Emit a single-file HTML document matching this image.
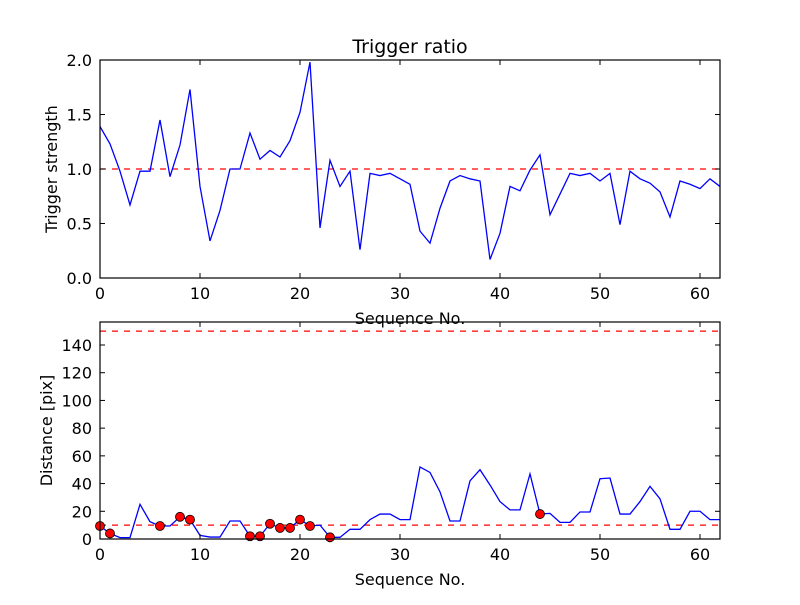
<!DOCTYPE html>
<html><head><meta charset="utf-8"><style>body{margin:0;background:#fff}svg text{font-family:"DejaVu Sans","Liberation Sans",sans-serif}</style></head>
<body>
<svg id="chart" width="800" height="600" xmlns="http://www.w3.org/2000/svg">
<rect width="800" height="600" fill="#fff"/>
</svg>
<script>
const strength = [1.39,1.23,0.98,0.67,0.98,0.98,1.45,0.93,1.22,1.73,0.84,0.34,0.62,1.0,1.0,1.33,1.09,1.17,1.11,1.26,1.52,1.98,0.46,1.08,0.84,0.98,0.26,0.96,0.94,0.96,0.91,0.86,0.43,0.32,0.64,0.89,0.94,0.91,0.89,0.17,0.41,0.84,0.80,0.99,1.13,0.58,0.77,0.96,0.94,0.96,0.89,0.96,0.49,0.98,0.91,0.87,0.79,0.56,0.89,0.86,0.82,0.91,0.84];
const distance = [9.4,4,1,1,25,12.5,9.4,9.4,16,14,2.6,1.4,1.4,13,13,2,2,11,8,8,14,9.4,10,1.2,1.2,7,7,14,18,18,14,14,52,48,34,13,13,42,50,39,27,21,21,47,18,18.5,12,12,19.5,19.5,43.5,44,18,18,27,38,29,7,7,20,20,14,14];
const markedIdx = [0,1,6,8,9,15,16,17,18,19,20,21,23,44];
const topYTicks = [0,0.5,1.0,1.5,2.0];
const botYTicks = [0,20,40,60,80,100,120,140];
const xTicks = [0,10,20,30,40,50,60];
const topThreshold = [1.0];
const botThresholds = [10,150];

const svg = document.getElementById('chart');
const NS = 'http://www.w3.org/2000/svg';
function mk(tag, attrs, parent){const e=document.createElementNS(NS,tag);for(const k in attrs)e.setAttribute(k,attrs[k]);(parent||svg).appendChild(e);return e;}
const X0=100,X1=720,XMAX=62;
const xs = v => X0 + v/XMAX*(X1-X0);

function panel(name, top, bottom, ymax, yTicks, fmt, series, thresholds, ylabel, title){
  const ys = v => bottom - v/ymax*(bottom-top);
  const g = mk('g',{});
  
  
  thresholds.forEach(t=>{
    const l=mk('line',{x1:X0,x2:X1,y1:ys(t),y2:ys(t),stroke:'#f00','stroke-width':1.3,'stroke-dasharray':'6,6'},g);
    
    
  });
  const p = mk('polyline',{points:series.map((v,i)=>xs(i)+','+ys(v)).join(' '),fill:'none',stroke:'#00f','stroke-width':1.3},g);
  
  
  if(name==='distance'){
    markedIdx.forEach(i=>{
      const c=mk('circle',{cx:xs(i),cy:ys(series[i]),r:4.5,fill:'#f00',stroke:'#000','stroke-width':0.8},g);
      
      
    });
  }
  const r=mk('rect',{x:X0,y:top,width:X1-X0,height:bottom-top,fill:'none',stroke:'#000','stroke-width':1.2},g);
  
  
  yTicks.forEach(t=>{
    const y=ys(t);
    mk('line',{x1:X0,x2:X0+5,y1:y,y2:y,stroke:'#000'},g);
    mk('line',{x1:X1,x2:X1-5,y1:y,y2:y,stroke:'#000'},g);
    const tx=mk('text',{x:X0-8,y:y+6,'text-anchor':'end','font-size':16},g);
    tx.textContent=fmt(t);
    
    
  });
  xTicks.forEach(t=>{
    const x=xs(t);
    mk('line',{x1:x,x2:x,y1:bottom,y2:bottom-5,stroke:'#000'},g);
    mk('line',{x1:x,x2:x,y1:top,y2:top+5,stroke:'#000'},g);
    const tx=mk('text',{x:x,y:bottom+21,'text-anchor':'middle','font-size':16},g);
    tx.textContent=t;
    
    
  });
  const xl=mk('text',{x:410,y:bottom+46,'text-anchor':'middle','font-size':16},g);
  xl.textContent='Sequence No.';
  
  
  const cy=(top+bottom)/2;
  const yl=mk('text',{x:0,y:0,'text-anchor':'middle','font-size':16,transform:'translate('+(name==='distance'?52:57)+','+cy+') rotate(-90)'},g);
  yl.textContent=ylabel;
  
  
  if(title){
    const tt=mk('text',{x:410,y:top-7,'text-anchor':'middle','font-size':19},g);
    tt.textContent=title;
    
    
  }
}
panel('strength',60,278,2.0,topYTicks,v=>v.toFixed(1),strength,topThreshold,'Trigger strength','Trigger ratio');
panel('distance',322,539,156.6,botYTicks,v=>String(v),distance,botThresholds,'Distance [pix]',null);
</script>
</body></html>
